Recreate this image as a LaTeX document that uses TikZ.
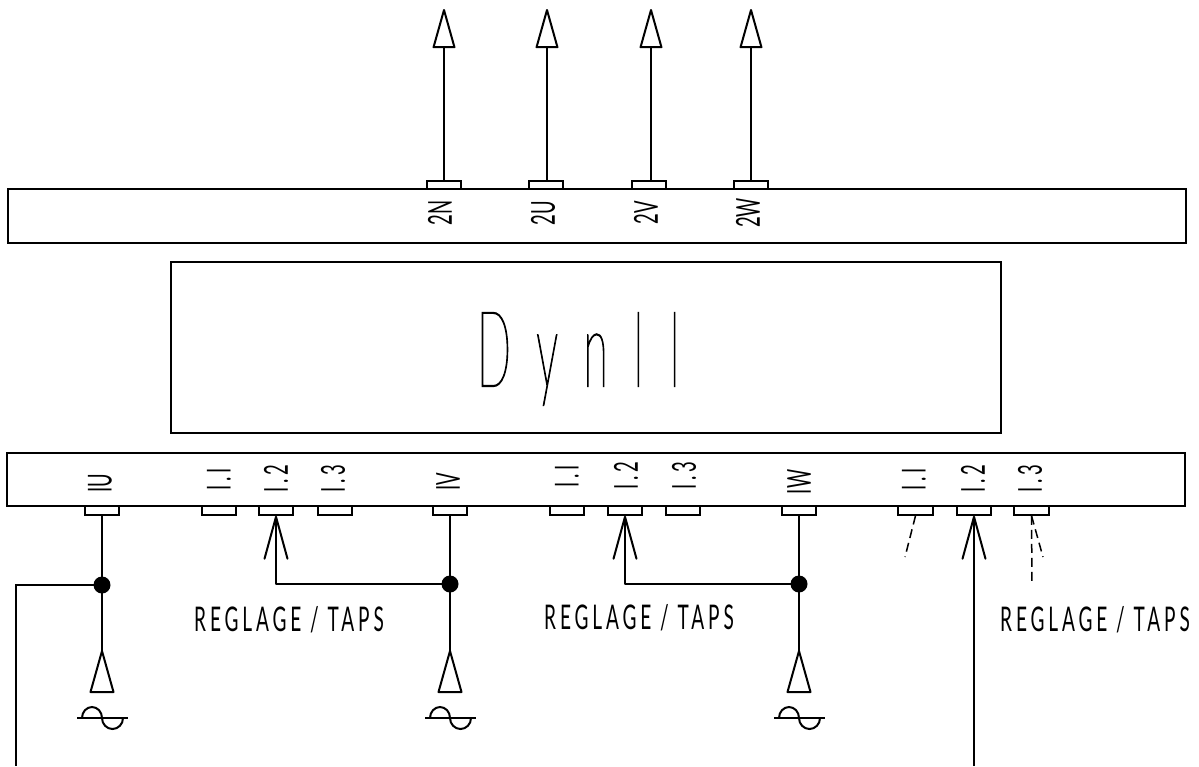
\documentclass[tikz,border=0pt]{standalone}
\usepackage{fontspec}
\usepackage{tikz}
\usetikzlibrary{arrows.meta}
\newfontfamily\cadfont[FakeStretch=0.56]{Lato}
\newfontfamily\cadwidefont[FakeStretch=0.56,LetterSpace=11.5]{Lato}
\newfontfamily\cadbigfont[FakeStretch=0.42,FakeBold=1,LetterSpace=24,UprightFont={* Hairline}]{Lato}
\tikzset{
    bar/.style={
        draw, line width=2pt, minimum height=54pt, inner sep=0pt
    },
    terminal/.style={
        draw, line width=2pt, fill=white, minimum width=34.5pt, minimum height=8.5pt, inner sep=0pt
    },
    termlabel/.style={
        font=\cadfont\fontsize{33}{33}\selectfont, rotate=90, inner sep=0pt
    },
    numlabel/.style={
        font=\cadwidefont\fontsize{33}{33}\selectfont, rotate=90, inner sep=0pt
    },
    taplabel/.style={
        font=\cadwidefont\fontsize{34}{34}\selectfont, inner sep=0pt
    },
    wire/.style={
        line width=2pt
    },
    junction/.style={
        circle, fill=black, minimum size=17pt, inner sep=0pt
    },
    outptr/.style={
        wire, -{Triangle[open, length=42pt, width=23pt, round]}
    },
    tapptr/.style={
        wire, line join=round, -{Straight Barb[length=42pt, width=23pt, round]}
    },
    altwire/.style={
        line width=1.5pt, dash pattern=on 9pt off 5pt
    },
    earth/.pic={
        \draw[wire, line join=round] (0,0) -- (-11.5,41) -- (11.5,41) -- cycle;
        \draw[wire] (-25,67) -- (26,67);
        \draw[wire] (-20,67) arc[start angle=180, end angle=360, x radius=10, y radius=11]
            arc[start angle=180, end angle=0, x radius=10.5, y radius=11];
    }
}
\begin{document}
\begin{tikzpicture}[x=1pt, y=-1pt]
    \useasboundingbox (0,0) rectangle (1199,766);

    % output side
    \node[bar, minimum width=1178pt] (lvbar) at (597,216) {};
    \node[terminal] (t2N) at (444,185) {};
    \node[terminal] (t2U) at (546,185) {};
    \node[terminal] (t2V) at (649,185) {};
    \node[terminal] (t2W) at (751,185) {};
    \node[termlabel] (l2N) at (440,213) {2N};
    \node[termlabel] (l2U) at (543,213) {2U};
    \node[termlabel] (l2V) at (646,213) {2V};
    \node[termlabel] (l2W) at (748,213) {2W};
    \coordinate (o2N) at (444,9);
    \coordinate (o2U) at (547,9);
    \coordinate (o2V) at (651,9);
    \coordinate (o2W) at (751,9);
    \draw[outptr] (o2N |- t2N.north) -- (o2N);
    \draw[outptr] (o2U |- t2U.north) -- (o2U);
    \draw[outptr] (o2V |- t2V.north) -- (o2V);
    \draw[outptr] (o2W |- t2W.north) -- (o2W);

    % transformer
    \node[draw, line width=2pt, minimum width=830pt, minimum height=171pt, inner sep=0pt] (core) at (586,347.5) {};
    \node[font=\cadbigfont\fontsize{106}{106}\selectfont, inner sep=0pt] (vector) at (578.5,359) {DynII};

    % input side
    \node[bar, minimum width=1178pt, minimum height=53pt] (hvbar) at (596,479.5) {};
    \node[terminal] (t1U) at (102,510.5) {};
    \node[terminal] (tA1) at (219,510.5) {};
    \node[terminal] (tA2) at (276,510.5) {};
    \node[terminal] (tA3) at (335,510.5) {};
    \node[terminal] (t1V) at (450,510.5) {};
    \node[terminal] (tB1) at (567,510.5) {};
    \node[terminal] (tB2) at (625,510.5) {};
    \node[terminal] (tB3) at (683,510.5) {};
    \node[terminal] (t1W) at (799,510.5) {};
    \node[terminal] (tC1) at (915.5,510.5) {};
    \node[terminal] (tC2) at (974,510.5) {};
    \node[terminal] (tC3) at (1031.5,510.5) {};
    \node[termlabel] (l1U) at (100,483) {IU};
    \node[numlabel] (lA1) at (219,479) {I.I};
    \node[numlabel] (lA2) at (276,479) {I.2};
    \node[numlabel] (lA3) at (333,479) {I.3};
    \node[termlabel] (l1V) at (448,482) {IV};
    \node[numlabel] (lB1) at (567,476) {I.I};
    \node[numlabel] (lB2) at (626,476) {I.2};
    \node[numlabel] (lB3) at (684,476) {I.3};
    \node[termlabel] (l1W) at (799,482) {IW};
    \node[numlabel] (lC1) at (914,479) {I.I};
    \node[numlabel] (lC2) at (973,479) {I.2};
    \node[numlabel] (lC3) at (1030,479) {I.3};

    \node[junction] (jU) at (102,585) {};
    \node[junction] (jV) at (450,584) {};
    \node[junction] (jW) at (799,584) {};
    \coordinate (eU) at (102,651);
    \coordinate (eV) at (450,651);
    \coordinate (eW) at (799,651);
    \coordinate (feedU) at (16,766);
    \coordinate (feedC) at (974,766);

    \draw[wire] (t1U.south) -- (eU);
    \draw[wire] (t1V.south) -- (eV);
    \draw[wire] (t1W.south) -- (eW);
    \draw[wire] (jU.center) -| (feedU);
    \draw[tapptr] (jV.center) -| (tA2.south);
    \draw[tapptr] (jW.center) -| (tB2.south);
    \draw[tapptr] (feedC) -- (tC2.south);
    \pic at (eU) {earth};
    \pic at (eV) {earth};
    \pic at (eW) {earth};

    % other tap positions
    \coordinate (altA) at (905,557);
    \coordinate (altB) at (1032,585);
    \coordinate (altC) at (1043,557);
    \draw[altwire] (tC1.south) -- (altA);
    \draw[altwire] (tC3.south) -- (altB);
    \draw[altwire] (tC3.south) -- (altC);

    \node[taplabel] (tapsA) at (289,620) {REGLAGE / TAPS};
    \node[taplabel] (tapsB) at (639,618) {REGLAGE / TAPS};
    \node[taplabel] (tapsC) at (1095,620) {REGLAGE / TAPS};
\end{tikzpicture}
\end{document}
